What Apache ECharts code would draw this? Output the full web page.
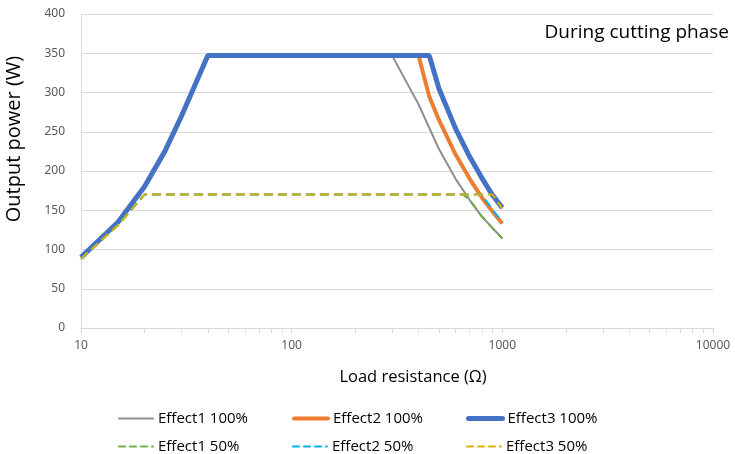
<!DOCTYPE html>
<html>
<head>
<meta charset="utf-8">
<script src="https://cdn.jsdelivr.net/npm/echarts@6/dist/echarts.min.js"></script>
<style>
  html, body { margin: 0; padding: 0; background: #fff; }
  #chart { width: 735px; height: 454px; }
</style>
</head>
<body>
<div id="chart"></div>
<script>
// x tick labels (log axis) and minor tick positions
const xTicks = [10, 100, 1000, 10000];
const xMinorTicks = [10, 20, 30, 40, 50, 60, 70, 80, 90, 100, 200, 300, 400, 500, 600, 700, 800, 900, 1000,
  2000, 3000, 4000, 5000, 6000, 7000, 8000, 9000, 10000];

// [load resistance, output power]
const effect1Full = [[10, 90], [15, 135], [20, 180], [25, 225], [30, 270], [40, 347], [300, 347], [400, 285],
  [500, 228], [600, 190], [700, 163], [800, 142], [900, 127], [1000, 114]];
const effect2Full = [[10, 90], [15, 135], [20, 180], [25, 225], [30, 270], [40, 347], [400, 347], [450, 295],
  [500, 265], [600, 221], [700, 190], [800, 166], [900, 148], [1000, 133]];
const effect3Full = [[10, 90], [15, 135], [20, 180], [25, 225], [30, 270], [40, 347], [450, 347], [500, 305],
  [600, 254], [700, 218], [800, 191], [900, 169], [1000, 153]];
const effect1Half = [[10, 88], [15, 131], [20, 170], [650, 170], [700, 163], [800, 142], [900, 127], [1000, 114]];
const effect2Half = [[10, 88], [15, 131], [20, 170], [800, 170], [900, 150], [1000, 135]];
const effect3Half = [[10, 88], [15, 131], [20, 170], [900, 170], [1000, 152]];

const chart = echarts.init(document.getElementById('chart'));

const lineSeries = (name, data, color, width, dashed) => ({
  name: name,
  type: 'line',
  data: data,
  symbol: 'none',
  smooth: false,
  lineStyle: { color: color, width: width, type: dashed ? [9, 5] : 'solid' },
  itemStyle: { color: color }
});

// one legend per item so the 2x3 grid lines up like the original
const legendItem = (name, left, top, width, dashed) => ({
  left: left,
  top: top,
  data: [name],
  itemWidth: 34,
  itemHeight: 14,
  itemStyle: { opacity: 0 },
  lineStyle: { width: width, type: dashed ? [6, 5] : 'solid', cap: 'round' },
  textStyle: { fontFamily: 'Open Sans', fontSize: 15, color: '#000' }
});

const option = {
  backgroundColor: '#fff',
  animation: false,
  grid: { left: 81, right: 22, top: 14, bottom: 126 },
  xAxis: {
    type: 'log',
    logBase: 10,
    min: 10,
    max: 10000,
    axisLine: { show: true, lineStyle: { color: '#d9d9d9' } },
    axisTick: { show: true, length: 5, lineStyle: { color: '#d9d9d9' }, customValues: xMinorTicks },
    axisLabel: {
      color: '#595959', fontSize: 12, fontFamily: 'Noto Sans', margin: 12, customValues: xTicks,
      formatter: (v) => String(Math.round(v))
    },
    splitLine: { show: false }
  },
  yAxis: {
    type: 'value',
    min: 0,
    max: 400,
    interval: 50,
    axisLine: { show: true, lineStyle: { color: '#d9d9d9' } },
    axisTick: { show: false },
    axisLabel: { color: '#595959', fontSize: 12, fontFamily: 'Noto Sans', margin: 16 },
    splitLine: { show: true, lineStyle: { color: '#d9d9d9' } }
  },
  legend: [
    legendItem('Effect1 100%', 113, 406, 2, false),
    legendItem('Effect2 100%', 287, 406, 4, false),
    legendItem('Effect3 100%', 461, 406, 5, false),
    legendItem('Effect1 50%', 113, 434, 2, true),
    legendItem('Effect2 50%', 287, 434, 2, true),
    legendItem('Effect3 50%', 461, 434, 2, true)
  ],
  graphic: [
    {
      type: 'text', x: 729, y: 33,
      style: { text: 'During cutting phase', font: '19px "Open Sans"', fill: '#000', align: 'right', verticalAlign: 'middle' }
    },
    {
      type: 'text', x: 4, y: 139, rotation: Math.PI / 2,
      style: { text: 'Output power (W)', font: '20px "Open Sans"', fill: '#000', align: 'center', verticalAlign: 'top' }
    },
    {
      type: 'text', x: 413, y: 377,
      style: { text: 'Load resistance (Ω)', font: '16.5px "Open Sans"', fill: '#000', align: 'center', verticalAlign: 'middle' }
    }
  ],
  series: [
    lineSeries('Effect1 100%', effect1Full, '#8f8f8f', 2, false),
    lineSeries('Effect2 100%', effect2Full, '#ed7d31', 4, false),
    lineSeries('Effect3 100%', effect3Full, '#4472c4', 5, false),
    lineSeries('Effect1 50%', effect1Half, '#70ad47', 2, true),
    lineSeries('Effect2 50%', effect2Half, '#00b0f0', 2, true),
    lineSeries('Effect3 50%', effect3Half, '#e0b000', 2, true)
  ]
};

chart.setOption(option);
</script>
</body>
</html>
